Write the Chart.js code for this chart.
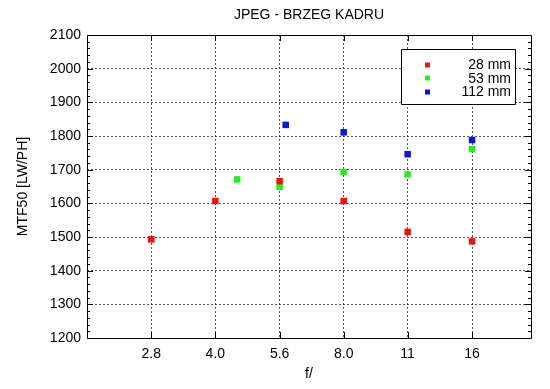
<!DOCTYPE html>
<html>
<head>
<meta charset="utf-8">
<script src="https://cdn.jsdelivr.net/npm/chart.js@4/dist/chart.umd.min.js"></script>
<style>
  body { margin: 0; background: #fff; }
  #wrap { width: 550px; height: 389px; }
</style>
</head>
<body>
<div id="wrap"><canvas id="mtf-chart"></canvas></div>
<script>
const fStopValues = [2.83, 4.0, 5.66, 8.0, 11.3, 16];
const fStopLabels = ['2.8', '4.0', '5.6', '8.0', '11', '16'];
const yTicks = [1200, 1300, 1400, 1500, 1600, 1700, 1800, 1900, 2000, 2100];

const seriesLabels = ['28 mm', '53 mm', '112 mm'];
const seriesColors = ['#ee1111', '#22ee22', '#1111dd'];

const f28 = [2.83, 4.0, 5.66, 8.0, 11.3, 16];
const mtf28 = [1493, 1607, 1666, 1607, 1515, 1487];

const f53 = [4.5, 5.66, 8.0, 11.3, 16];
const mtf53 = [1671, 1649, 1693, 1686, 1761];

const f112 = [5.85, 8.0, 11.3, 16];
const mtf112 = [1833, 1811, 1746, 1788];

const FONT = '"Liberation Sans", Arial, Helvetica, sans-serif';

const toPoints = (xs, ys) => xs.map((x, i) => ({ x: x, y: ys[i] }));

const makeDataset = (i, xs, ys) => ({
    label: seriesLabels[i],
    data: toPoints(xs, ys),
    backgroundColor: seriesColors[i],
    borderWidth: 0,
    pointStyle: 'rect',
    pointRadius: 4.6,
    pointHoverRadius: 4.6,
});

// frame, inward tick marks, title and legend box in gnuplot style
const framePlugin = {
    id: 'frame',
    afterDraw(chart) {
        const ctx = chart.ctx;
        const area = chart.chartArea;
        const xs = chart.scales.x;
        const ys = chart.scales.y;
        ctx.save();
        ctx.strokeStyle = '#000';
        ctx.lineWidth = 1;
        ctx.beginPath();
        ctx.rect(Math.round(area.left) + 0.5, Math.round(area.top) + 0.5,
            Math.round(area.right - area.left), Math.round(area.bottom - area.top));
        ctx.stroke();

        ctx.beginPath();
        for (let v = yTicks[0]; v <= yTicks[yTicks.length - 1]; v += 20) {
            const y = Math.round(ys.getPixelForValue(v)) + 0.5;
            const len = (v % 100 === 0) ? 6 : 3;
            ctx.moveTo(area.left, y);
            ctx.lineTo(area.left + len, y);
            ctx.moveTo(area.right, y);
            ctx.lineTo(area.right - len, y);
        }
        fStopValues.forEach(v => {
            const x = Math.round(xs.getPixelForValue(v)) + 0.5;
            ctx.moveTo(x, area.bottom);
            ctx.lineTo(x, area.bottom - 6);
            ctx.moveTo(x, area.top);
            ctx.lineTo(x, area.top + 6);
        });
        ctx.stroke();

        ctx.fillStyle = '#000';
        ctx.font = '14px ' + FONT;
        ctx.textAlign = 'center';
        ctx.textBaseline = 'middle';
        ctx.fillText('JPEG - BRZEG KADRU', (area.left + area.right) / 2, 15);

        // legend
        const boxRight = area.right - 16;
        const boxLeft = boxRight - 114;
        const boxTop = area.top + 14;
        const boxH = 55;
        ctx.fillStyle = '#fff';
        ctx.fillRect(boxLeft, boxTop, boxRight - boxLeft, boxH);
        ctx.beginPath();
        ctx.rect(boxLeft + 0.5, boxTop + 0.5, boxRight - boxLeft, boxH);
        ctx.stroke();
        ctx.textAlign = 'right';
        chart.data.datasets.forEach((ds, i) => {
            const cy = boxTop + 15.5 + i * 13.5;
            ctx.fillStyle = ds.backgroundColor;
            ctx.fillRect(boxLeft + 24, Math.round(cy) - 2.5, 5, 5);
            ctx.fillStyle = '#000';
            ctx.fillText(ds.label, boxRight - 4, cy + 1);
        });
        ctx.restore();
    }
};

const ctx = document.getElementById('mtf-chart').getContext('2d');
new Chart(ctx, {
    type: 'scatter',
    data: {
        datasets: [
            makeDataset(0, f28, mtf28),
            makeDataset(1, f53, mtf53),
            makeDataset(2, f112, mtf112),
        ],
    },
    options: {
        responsive: true,
        maintainAspectRatio: false,
        animation: false,
        layout: { padding: { top: 35, right: 19, left: 0, bottom: 0 } },
        plugins: {
            legend: { display: false },
            title: { display: false },
            tooltip: { enabled: false },
        },
        scales: {
            x: {
                type: 'logarithmic',
                min: 2,
                max: 22,
                afterBuildTicks: (scale) => {
                    scale.ticks = fStopValues.map(v => ({ value: v }));
                },
                afterFit: (scale) => { scale.height = 51; },
                border: { display: false, dash: [2, 2] },
                grid: {
                    color: '#555',
                    lineWidth: 1,
                    drawTicks: false,
                },
                ticks: {
                    autoSkip: false,
                    maxRotation: 0,
                    padding: 8,
                    color: '#000',
                    font: { family: FONT, size: 14 },
                    callback: (value) => {
                        const i = fStopValues.indexOf(value);
                        return i >= 0 ? fStopLabels[i] : '';
                    },
                },
                title: {
                    display: true,
                    text: 'f/',
                    color: '#000',
                    font: { family: FONT, size: 14 },
                    padding: { top: 6, bottom: 6 },
                },
            },
            y: {
                min: 1200,
                max: 2100,
                afterBuildTicks: (scale) => {
                    scale.ticks = yTicks.map(v => ({ value: v }));
                },
                afterFit: (scale) => { scale.width = 87; },
                border: { display: false, dash: [2, 2] },
                grid: {
                    color: '#555',
                    lineWidth: 1,
                    drawTicks: false,
                },
                ticks: {
                    padding: 6,
                    color: '#000',
                    font: { family: FONT, size: 14 },
                    callback: (value) => String(value),
                },
                title: {
                    display: true,
                    text: 'MTF50 [LW/PH]',
                    color: '#000',
                    font: { family: FONT, size: 14 },
                    padding: { top: 15, bottom: 15 },
                },
            },
        },
    },
    plugins: [framePlugin],
});
</script>
</body>
</html>
